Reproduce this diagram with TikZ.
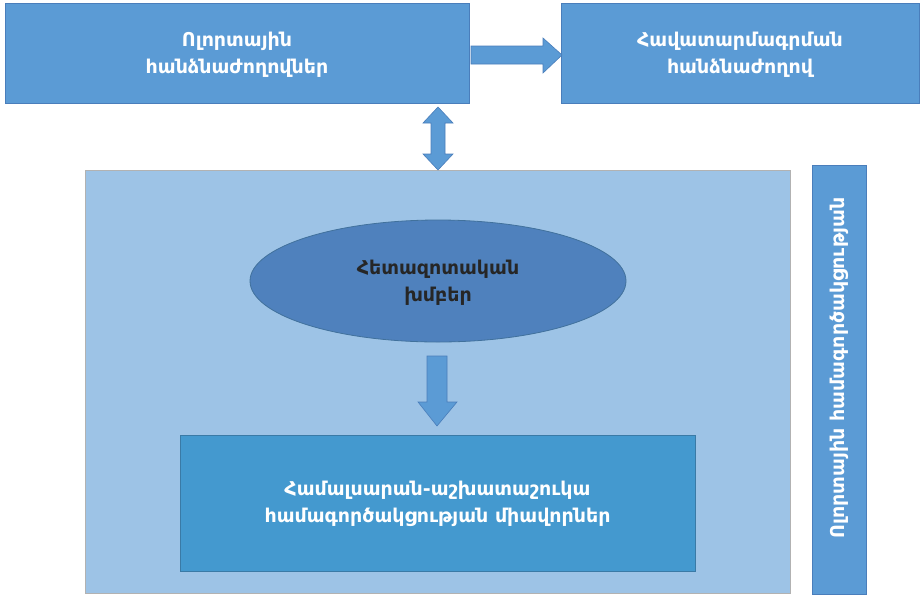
\documentclass[tikz,border=0pt]{standalone}
\usepackage{fontspec}
\setmainfont{DejaVu Sans}
\usetikzlibrary{shapes.geometric}
\definecolor{boxblue}{HTML}{5B9BD5}
\definecolor{boxedge}{HTML}{4A7EBB}
\definecolor{lightbg}{HTML}{9DC3E6}
\definecolor{ellblue}{HTML}{4F81BD}
\definecolor{elledge}{HTML}{41719C}
\definecolor{unitblue}{HTML}{4499CF}
\definecolor{unitedge}{HTML}{3A7AA6}
\begin{document}
\begin{tikzpicture}[x=1pt,y=-1pt,
  topbox/.style={draw=boxedge,fill=boxblue,line width=0.8pt},
  lbl/.style={font=\fontsize{19}{27}\selectfont\bfseries,text=white,align=center},
  arrowfill/.style={draw=boxedge,fill=boxblue,line width=0.6pt}]
\useasboundingbox (0,0) rectangle (920,595);
\fill[white] (0,0) rectangle (920,595);
% top boxes
\node[topbox,minimum width=464pt,minimum height=100pt] (regbox) at (237,53) {};
\node[lbl] (reg) at (237,55) {Ոլորտային\\հանձնաժողովներ};
\node[topbox,minimum width=358pt,minimum height=100pt] (accbox) at (740,53) {};
\node[lbl] (acc) at (740,55) {Հավատարմագրման\\հանձնաժողով};
% right arrow
\draw[arrowfill] (471,46) -- (543,46) -- (543,38) -- (562,55) -- (543,73) -- (543,64) -- (471,64) -- cycle;
% big light box
\node[draw=gray!60,fill=lightbg,line width=0.8pt,minimum width=705pt,minimum height=423pt] (frame) at (437.5,381.5) {};
% double arrow
\draw[arrowfill] (438,107) -- (453,123) -- (445,123) -- (445,154) -- (453,154) -- (438,170) -- (423,154) -- (431,154) -- (431,123) -- (423,123) -- cycle;
% ellipse
\node[ellipse,draw=elledge,fill=ellblue,minimum width=376pt,minimum height=122pt,line width=0.8pt,inner sep=0pt] (resell) at (438,281) {};
\node[font=\fontsize{19}{27}\selectfont\bfseries,text=black!85,align=center] (res) at (438,283) {Հետազոտական\\խմբեր};
% down arrow
\draw[arrowfill] (427,356) -- (447,356) -- (447,402) -- (457,402) -- (437,426) -- (418,402) -- (427,402) -- cycle;
% bottom box
\node[draw=unitedge,fill=unitblue,line width=0.8pt,minimum width=515pt,minimum height=136pt] (unitbox) at (437.5,503) {};
\node[lbl] (units) at (437.5,504) {Համալսարան-աշխատաշուկա\\համագործակցության միավորներ};
% vertical box
\node[topbox,minimum width=54pt,minimum height=429pt] (sidebox) at (839,379.5) {};
\node[lbl,rotate=90] (side) at (839,368) {Ոլորտային համագործակցության};
\end{tikzpicture}
\end{document}
